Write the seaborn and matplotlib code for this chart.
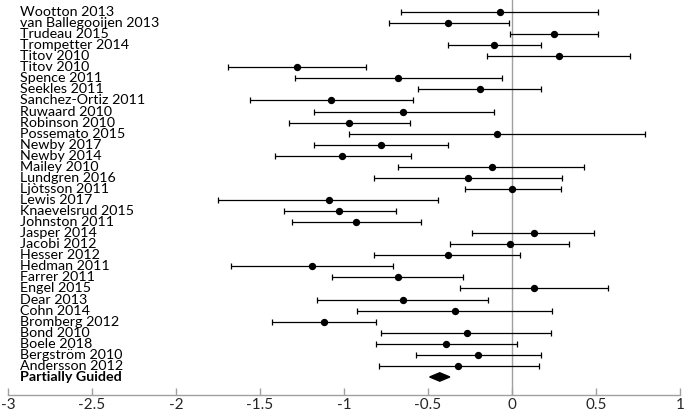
import pandas as pd
import numpy as np
import matplotlib.pyplot as plt
import seaborn as sns

sns.set_theme(style="white")
plt.rcParams['font.family'] = ['Lato', 'DejaVu Sans']

# Study effect sizes with 95% CI
studies = ["Wootton 2013", "van Ballegooijen 2013", "Trudeau 2015", "Trompetter 2014",
           "Titov 2010", "Titov 2010", "Spence 2011", "Seekles 2011", "Sanchez-Ortiz 2011",
           "Ruwaard 2010", "Robinson 2010", "Possemato 2015", "Newby 2017", "Newby 2014",
           "Mailey 2010", "Lundgren 2016", "Ljòtsson 2011", "Lewis 2017", "Knaevelsrud 2015",
           "Johnston 2011", "Jasper 2014", "Jacobi 2012", "Hesser 2012", "Hedman 2011",
           "Farrer 2011", "Engel 2015", "Dear 2013", "Cohn 2014", "Bromberg 2012",
           "Bond 2010", "Boele 2018", "Bergström 2010", "Andersson 2012"]
effect = [-0.07, -0.38, 0.25, -0.11, 0.28, -1.28, -0.68, -0.19, -1.08, -0.65, -0.97,
          -0.09, -0.78, -1.01, -0.12, -0.26, 0.00, -1.09, -1.03, -0.93, 0.13, -0.01,
          -0.38, -1.19, -0.68, 0.13, -0.65, -0.34, -1.12, -0.27, -0.39, -0.20, -0.32]
ci_low = [-0.66, -0.73, -0.01, -0.38, -0.15, -1.69, -1.29, -0.56, -1.56, -1.18, -1.33,
          -0.97, -1.18, -1.41, -0.68, -0.82, -0.28, -1.75, -1.36, -1.31, -0.24, -0.37,
          -0.82, -1.67, -1.07, -0.31, -1.16, -0.92, -1.43, -0.78, -0.81, -0.57, -0.79]
ci_high = [0.51, -0.02, 0.51, 0.17, 0.70, -0.87, -0.06, 0.17, -0.59, -0.11, -0.61,
           0.79, -0.38, -0.60, 0.43, 0.30, 0.29, -0.44, -0.69, -0.54, 0.49, 0.34,
           0.05, -0.71, -0.29, 0.57, -0.14, 0.24, -0.81, 0.23, 0.03, 0.17, 0.16]

# pooled estimate
pooled_label = "Partially Guided"
pooled = -0.43
pooled_low = -0.49
pooled_high = -0.37

xticks = [-3, -2.5, -2, -1.5, -1, -0.5, 0, 0.5, 1]

df = pd.DataFrame({"study": studies, "effect": effect, "low": ci_low, "high": ci_high})
df["row"] = np.arange(len(df))
pooled_row = len(df)

fig = plt.figure(figsize=(6.85, 4.12), dpi=100)
ax = fig.add_axes([8 / 685, 17 / 412, 672 / 685, 395 / 412])

# zero line
ax.axvline(0, color="#a0a0a0", lw=1, zorder=1)

# CI whiskers
ax.errorbar(df["effect"], df["row"],
            xerr=[df["effect"] - df["low"], df["high"] - df["effect"]],
            fmt="none", ecolor="black", elinewidth=0.9, capsize=2.5, capthick=0.9, zorder=2)

# point estimates
sns.scatterplot(data=df, x="effect", y="row", color="black", s=28, edgecolor="black",
                linewidth=0, ax=ax, zorder=3, legend=False)

# pooled diamond
half_h = 0.38
ax.fill([pooled_low, pooled, pooled_high, pooled],
        [pooled_row, pooled_row - half_h, pooled_row, pooled_row + half_h],
        color="black", zorder=3)

# study labels inside the plot on the left
for lbl, r in zip(df["study"], df["row"]):
    ax.text(-2.93, r, lbl, ha="left", va="center", fontsize=10.3, color="black")
ax.text(-2.93, pooled_row, pooled_label, ha="left", va="center", fontsize=10.3,
        fontweight="bold", color="black")

ax.set_xlim(-3, 1)
ax.set_ylim(34.63, -1.085)
ax.set_xticks(xticks)
ax.set_xticklabels([f"{t:g}" for t in xticks])
ax.set_yticks([])
ax.set_xlabel("")
ax.set_ylabel("")
for s in ["top", "right", "left"]:
    ax.spines[s].set_visible(False)
ax.spines["bottom"].set_color("#a0a0a0")
ax.spines["bottom"].set_linewidth(1)
ax.tick_params(axis="x", direction="in", length=5, width=1, color="#a0a0a0",
               labelsize=11, pad=2, bottom=True)
ax.patch.set_alpha(0)

fig.savefig("out.png", dpi=100)
